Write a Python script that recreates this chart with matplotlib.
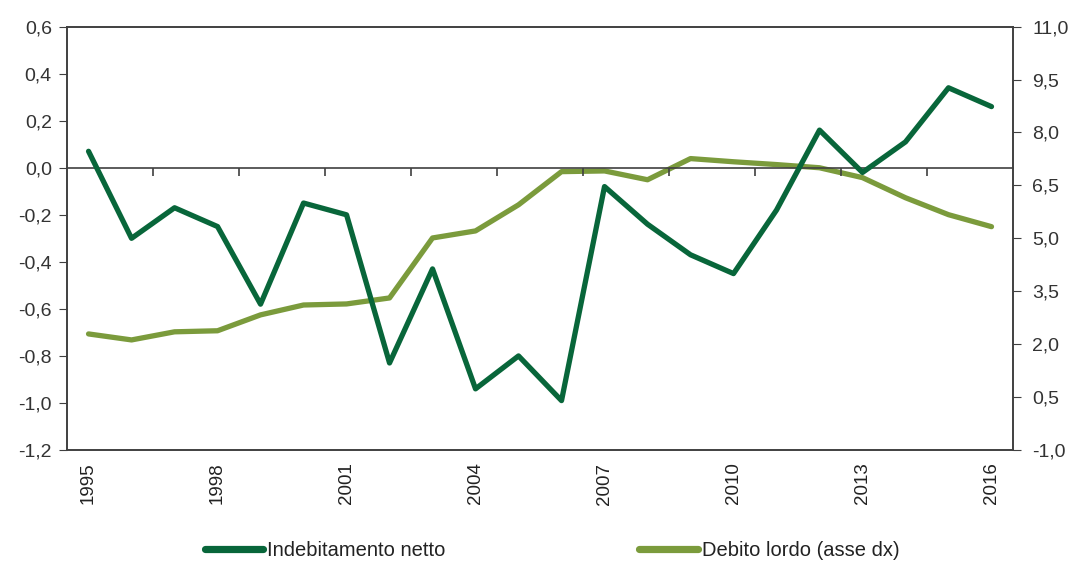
import numpy as np
import matplotlib.pyplot as plt
from matplotlib.ticker import FuncFormatter

plt.rcParams['font.family'] = ['Liberation Sans', 'DejaVu Sans']

years = list(range(1995, 2017))
indebitamento = [0.07, -0.30, -0.17, -0.25, -0.58, -0.15, -0.20, -0.83, -0.43, -0.94, -0.80,
                 -0.99, -0.08, -0.24, -0.37, -0.45, -0.18, 0.16, -0.02, 0.11, 0.34, 0.26]
debito = [2.29, 2.12, 2.35, 2.38, 2.83, 3.11, 3.14, 3.31, 5.01, 5.21, 5.95,
          6.89, 6.91, 6.66, 7.26, 7.17, 7.09, 7.00, 6.72, 6.15, 5.67, 5.33]
label_years = [1995, 1998, 2001, 2004, 2007, 2010, 2013, 2016]
series_names = ['Indebitamento netto', 'Debito lordo (asse dx)']

dark = '#08663a'
light = '#7b9b3c'
grey = '#404040'


def comma_fmt(v, p):
    s = f'{v:.1f}'
    if s == '-0.0':
        s = '0.0'
    return s.replace('.', ',')


fig = plt.figure(figsize=(10.78, 5.63), dpi=100)
ax = fig.add_axes([0.0622, 0.2007, 0.8775, 0.752])
ax2 = ax.twinx()

x = np.arange(len(years))
ax2.plot(x, debito, color=light, lw=3.8, solid_capstyle='round', solid_joinstyle='round')
ax.plot(x, indebitamento, color=dark, lw=3.8, solid_capstyle='round', solid_joinstyle='round')
ax.set_zorder(ax2.get_zorder() + 1)
ax.patch.set_visible(False)

ax.set_xlim(-0.5, len(years) - 0.5)
ax.set_ylim(-1.2, 0.6)
ax.set_yticks(np.arange(-1.2, 0.61, 0.2))
ax.yaxis.set_major_formatter(FuncFormatter(comma_fmt))
ax2.set_ylim(-1.0, 11.0)
ax2.set_yticks(np.arange(-1.0, 11.01, 1.5))
ax2.yaxis.set_major_formatter(FuncFormatter(comma_fmt))

ax.set_xticks([years.index(y) for y in label_years])
ax.set_xticklabels([str(y) for y in label_years], rotation=90, fontsize=13.5, color='#222222')
ax.tick_params(axis='x', length=0, pad=9)
ax.tick_params(axis='y', labelsize=14, color=grey, labelcolor='#333333', length=6,
               direction='out', pad=5)
ax2.tick_params(axis='y', labelsize=14, color=grey, labelcolor='#333333', length=6,
                direction='out', pad=8)

for a in (ax, ax2):
    for s in a.spines.values():
        s.set_color(grey)
        s.set_linewidth(1.2)

# zero line with category-boundary ticks
zero_frac = (0 - (-1.2)) / 1.8
sec = ax.secondary_xaxis(zero_frac)
sec.set_xticks(np.arange(1.5, len(years) - 1, 2))
sec.set_xticklabels([])
sec.tick_params(axis='x', length=6, color=grey, width=1.2, direction='out',
                top=False, bottom=True, labelbottom=False, labeltop=False)
for s in ('bottom', 'top'):
    sec.spines[s].set_color(grey)
    sec.spines[s].set_linewidth(1.2)

# legend entries placed separately, as in the original layout
for color, name, xpos in zip([dark, light], series_names, [0.19, 0.593]):
    h, = ax.plot([], [], color=color, lw=5.2, solid_capstyle='round')
    leg = fig.legend([h], [name], loc='center left', bbox_to_anchor=(xpos, 0.023),
                     frameon=False, borderpad=0, borderaxespad=0,
                     handlelength=2.9, handletextpad=0.2,
                     prop={'family': ['Liberation Sans Narrow', 'Liberation Sans'], 'size': 14.5})
    leg.get_texts()[0].set_color('#222222')

fig.savefig('out.png', dpi=100)
